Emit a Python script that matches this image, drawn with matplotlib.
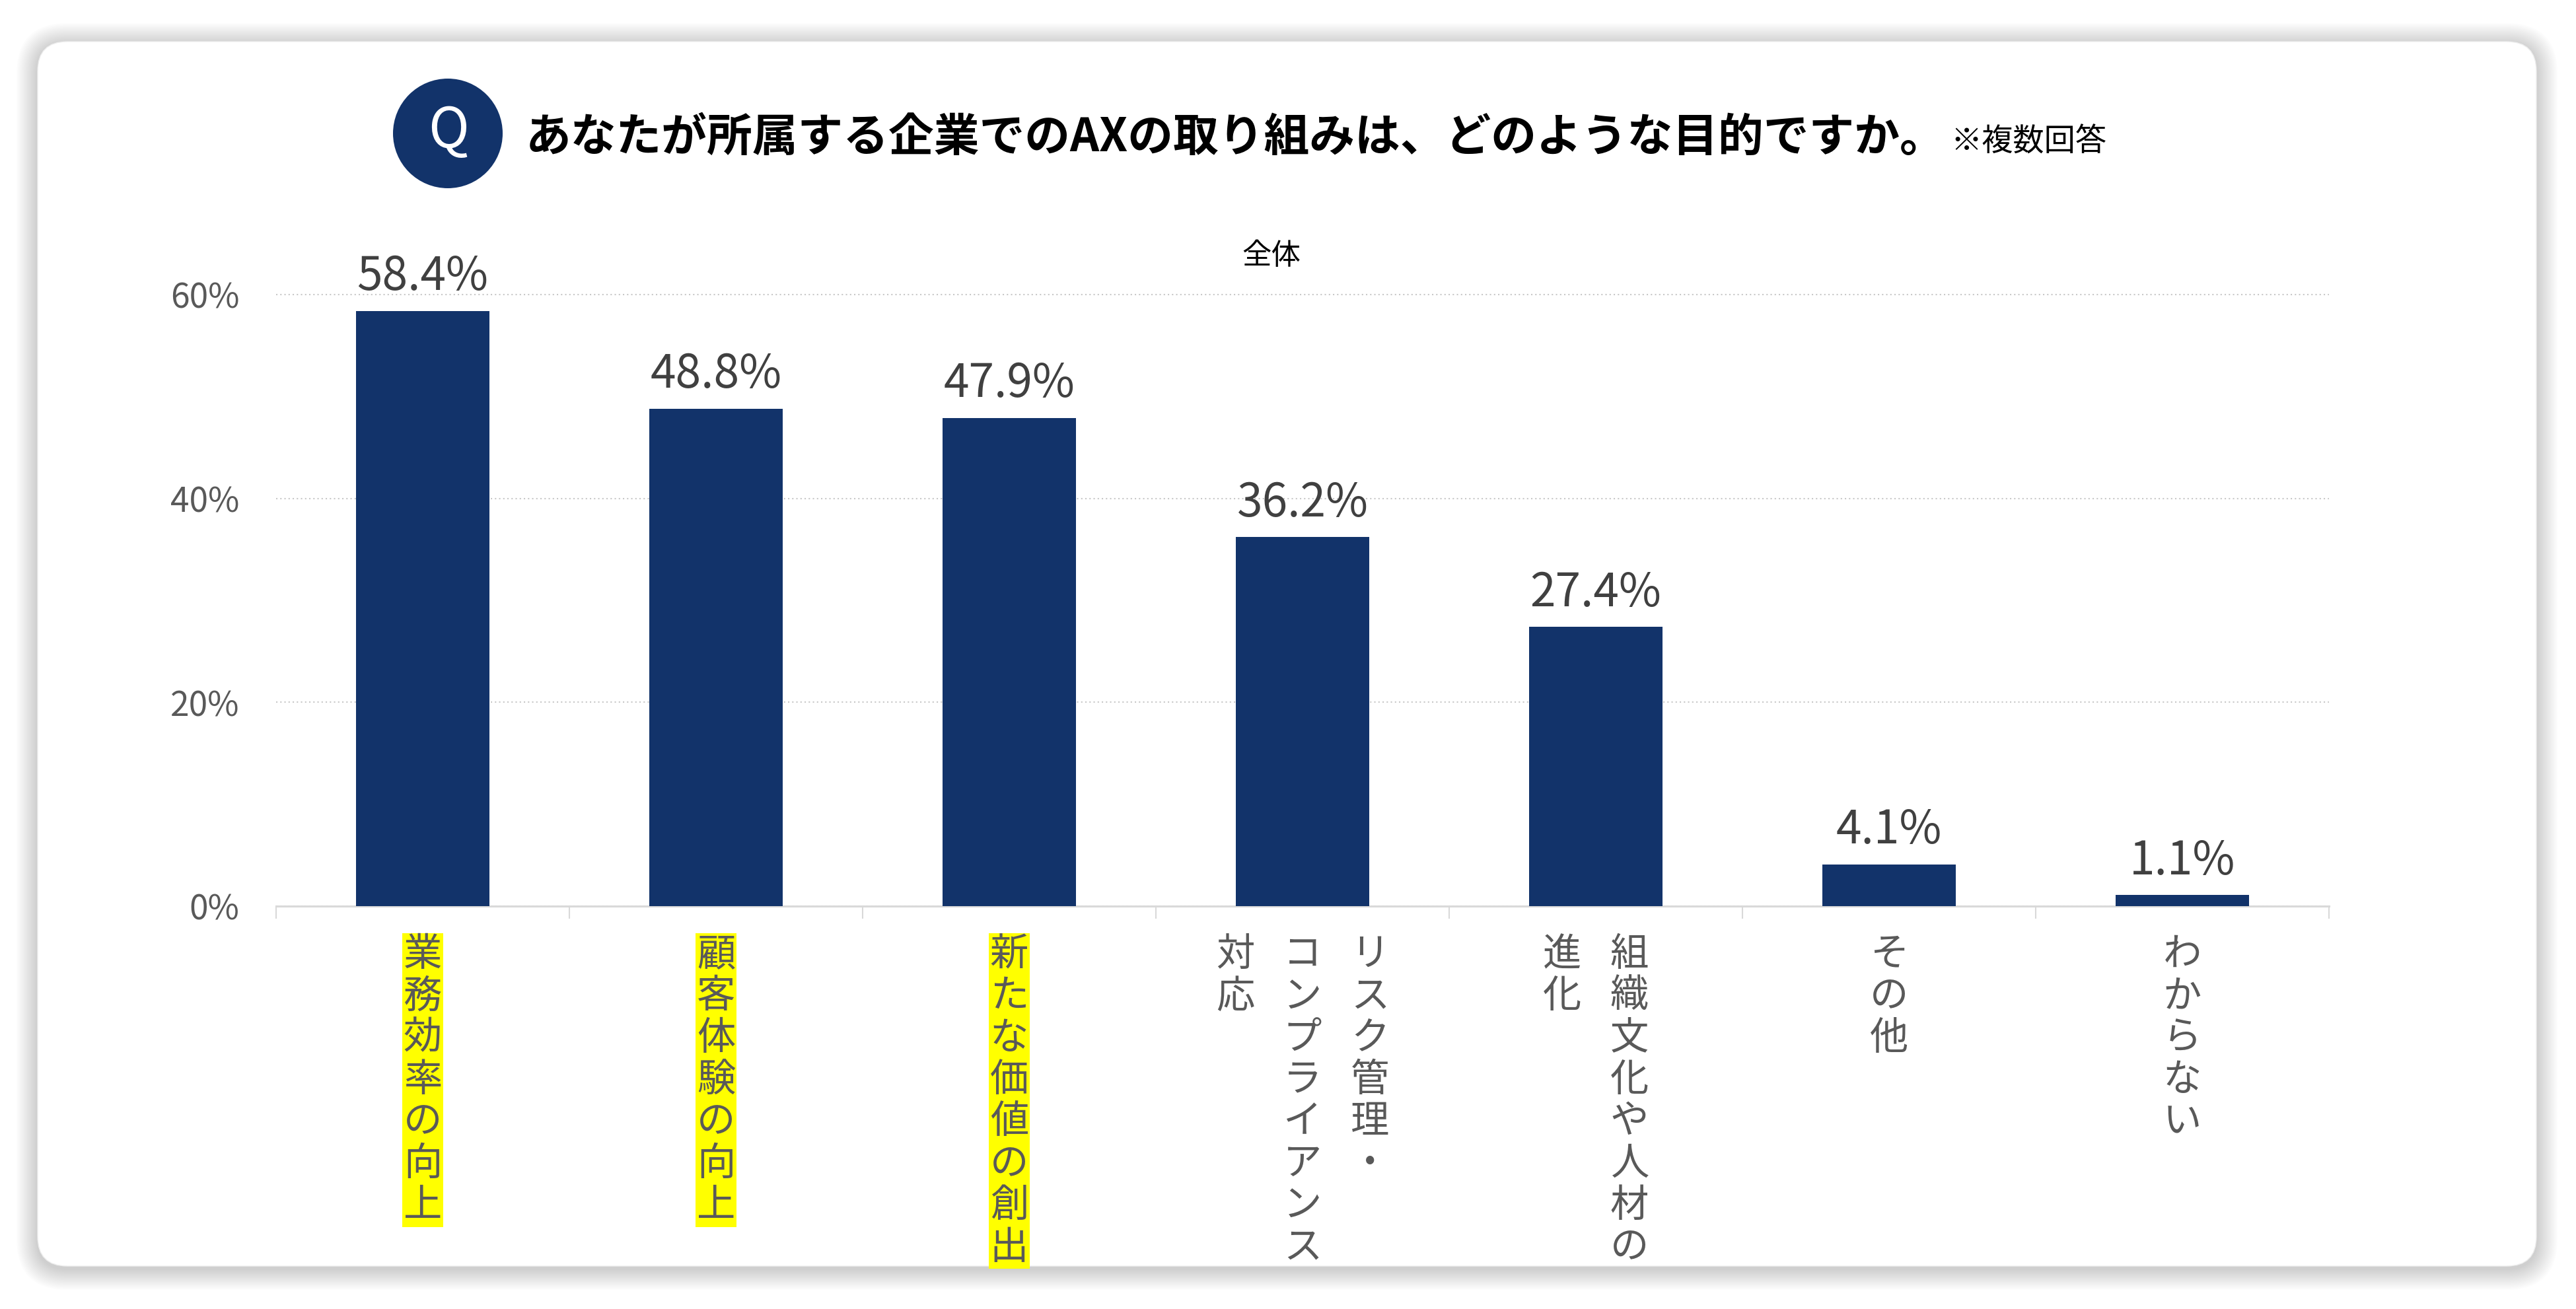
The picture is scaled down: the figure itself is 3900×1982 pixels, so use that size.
import numpy as np
import matplotlib
matplotlib.use('Agg')
import matplotlib.pyplot as plt
from matplotlib.patches import FancyBboxPatch, Circle

plt.rcParams['font.family'] = ['Noto Sans CJK JP', 'DejaVu Sans']

title = 'あなたが所属する企業でのAXの取り組みは、どのような目的ですか。'
note = '※複数回答'
subtitle = '全体'

# category names, already broken into vertical columns (first column = rightmost)
label_cols = [
    ['業務効率の向上'],
    ['顧客体験の向上'],
    ['新たな価値の創出'],
    ['リスク管理・', 'コンプライアンス', '対応'],
    ['組織文化や人材の', '進化'],
    ['その他'],
    ['わからない'],
]
values = [58.4, 48.8, 47.9, 36.2, 27.4, 4.1, 1.1]
highlighted = [True, True, True, False, False, False, False]
yticks = [0, 20, 40, 60]

navy = '#12336A'
W, H = 3900, 1982
fig = plt.figure(figsize=(W / 100, H / 100), dpi=100)
fig.patch.set_facecolor('white')

# background layer in pixel coords (y down)
bg = fig.add_axes([0, 0, 1, 1], zorder=0)
bg.set_xlim(0, W)
bg.set_ylim(H, 0)
bg.axis('off')

cx0, cy0, cw, ch = 57, 63, 3783, 1854
for k in range(16, 0, -1):
    g = k * 2
    bg.add_patch(FancyBboxPatch((cx0 - g, cy0 - g + 4), cw + 2 * g, ch + 2 * g,
                                boxstyle=f'round,pad=0,rounding_size={45 + g}',
                                fc='black', ec='none', alpha=0.011))
bg.add_patch(FancyBboxPatch((cx0, cy0), cw, ch,
                            boxstyle='round,pad=0,rounding_size=45',
                            fc='white', ec='#eeeeee', lw=1))

# Q badge
bg.add_patch(Circle((678, 202), 83, fc=navy, ec='none'))
bg.text(679, 199, 'Q', color='white', fontsize=60, ha='center', va='center',
        family=['Noto Sans CJK JP', 'DejaVu Sans'])

t = bg.text(796, 229, title, fontsize=49.5, fontweight='bold', color='black',
            ha='left', va='baseline')
fig.canvas.draw()
bb = t.get_window_extent(renderer=fig.canvas.get_renderer())
bg.text(bb.x1 + 8, 229, note, fontsize=34, color='black', ha='left', va='baseline')

bg.text(1925, 387, subtitle, fontsize=32, color='black', ha='center', va='center')

# chart
ax = fig.add_axes([418 / W, (H - 1372) / H, (3526 - 418) / W, 957 / H], zorder=2)
ax.set_facecolor('none')
x = np.arange(len(values))
ax.bar(x, values, width=0.455, color=navy, zorder=3)
ax.set_xlim(-0.5, len(values) - 0.5)
ax.set_ylim(0, 62)

ax.set_yticks(yticks)
ax.set_yticklabels([f'{v}%' for v in yticks], fontsize=37, color='#595959')
ax.tick_params(axis='y', length=0, pad=40)
ax.yaxis.grid(True, linestyle=(0, (1, 2)), color='#c8c8c8', lw=1.5)
ax.set_axisbelow(True)

ax.set_xticks(np.arange(-0.5, len(values), 1))
ax.tick_params(axis='x', length=14, width=1.5, color='#d9d9d9', direction='out',
               labelbottom=False)
for s in ['top', 'right', 'left']:
    ax.spines[s].set_visible(False)
ax.spines['bottom'].set_color('#d9d9d9')
ax.spines['bottom'].set_linewidth(2.2)

for i, v in enumerate(values):
    ax.annotate(f'{v}%', (i, v), xytext=(0, 11), textcoords='offset points',
                ha='center', va='bottom', fontsize=50, color='#404040')

for i, cols in enumerate(label_cols):
    n = len(cols)
    for j, col in enumerate(cols):
        off = ((n - 1) / 2 - j) * 102 * 0.72
        kw = {}
        if highlighted[i]:
            kw['bbox'] = dict(boxstyle='square,pad=0.03', fc='#FFFF00', ec='none')
        ax.annotate('\n'.join(col), (i, 0), xytext=(off, -31),
                    textcoords='offset points', ha='center', va='top',
                    fontsize=42, color='#595959', linespacing=1.05,
                    annotation_clip=False, **kw)

fig.savefig('out.png', dpi=100)
